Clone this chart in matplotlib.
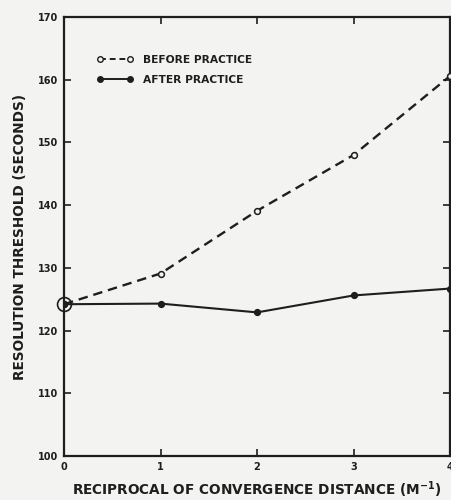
"""Resolution threshold before and after practice."""

import matplotlib.pyplot as plt
from matplotlib.lines import Line2D

# reciprocal of convergence distance (1/m)
distance = [0, 1, 2, 3, 4]
before_practice = [124.2, 129.1, 139.1, 148.0, 160.6]
after_practice = [124.2, 124.3, 122.9, 125.6, 126.7]
y_ticks = [100, 110, 120, 130, 140, 150, 160, 170]

ink = "#1e1e1e"
paper = "#f3f3f1"

plt.rcParams["font.family"] = ["DejaVu Sans"]
plt.rcParams["font.weight"] = "bold"

fig = plt.figure(figsize=(4.51, 5.0), dpi=100, facecolor=paper)
ax = fig.add_axes([0.142, 0.088, 0.856, 0.878], facecolor=paper)

ax.plot(distance, before_practice, color=ink, lw=1.7, ls=(0, (4, 2.5)),
        marker="o", ms=4.2, mfc=paper, mec=ink, mew=1.1, zorder=3)
ax.plot(distance, after_practice, color=ink, lw=1.5,
        marker="o", ms=4.2, mfc=ink, mec=ink, zorder=4)
# shared starting point drawn as a ring round the dot
ax.plot(distance[0], before_practice[0], marker="o", ms=10, mfc="none",
        mec=ink, mew=1.2, zorder=5, clip_on=False)

ax.set_xlim(0, 4)
ax.set_ylim(100, 170)
ax.set_xticks(distance)
ax.set_yticks(y_ticks)
ax.tick_params(direction="in", length=5, width=1.2, colors=ink,
               labelsize=7, top=True, right=True, pad=4)
for label in ax.get_xticklabels() + ax.get_yticklabels():
    label.set_fontweight("bold")
for spine in ax.spines.values():
    spine.set_linewidth(1.6)
    spine.set_color(ink)

ax.set_xlabel("RECIPROCAL OF CONVERGENCE DISTANCE (M$^{\\mathbf{-1}}$)",
              fontsize=9.8, fontweight="bold", color=ink, labelpad=6)
ax.set_ylabel("RESOLUTION THRESHOLD (SECONDS)", fontsize=9.8,
              fontweight="bold", color=ink, labelpad=8)

handles = [
    Line2D([], [], color=ink, lw=1.4, ls=(0, (3, 2)), marker="o", ms=4,
           mfc=paper, mec=ink),
    Line2D([], [], color=ink, lw=1.4, marker="o", ms=4, mfc=ink, mec=ink),
]
ax.legend(handles, ["BEFORE PRACTICE", "AFTER PRACTICE"], loc="upper left",
          bbox_to_anchor=(0.06, 0.935), frameon=False, numpoints=2,
          handlelength=3.4, handletextpad=0.9, labelspacing=0.9,
          prop={"size": 7.7, "weight": "bold"}, labelcolor=ink)

fig.savefig("out.png", dpi=100, facecolor=paper)
